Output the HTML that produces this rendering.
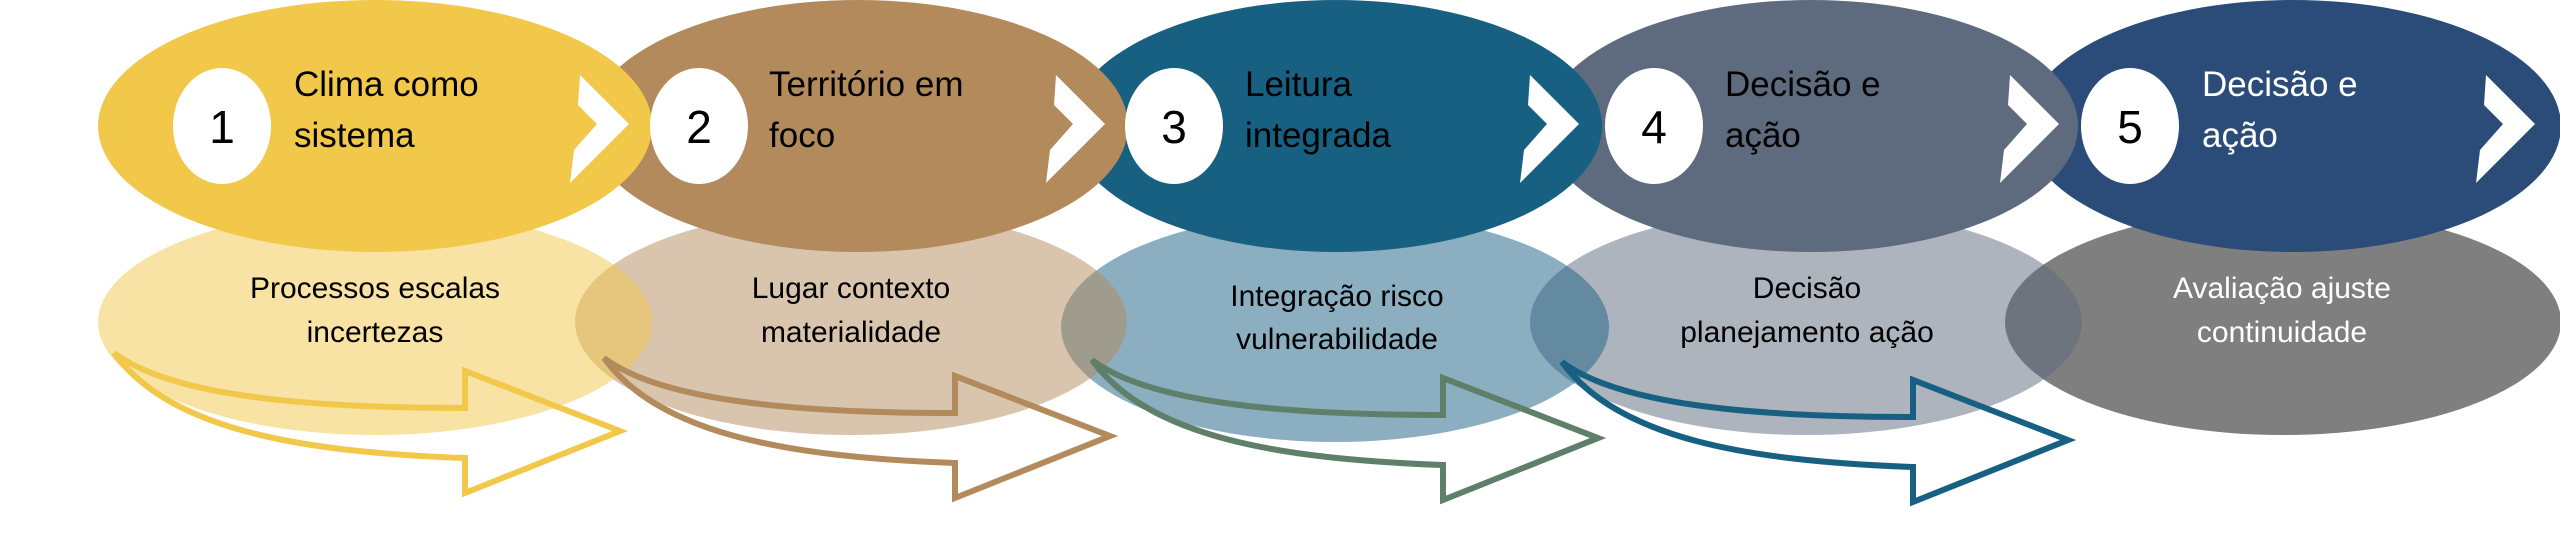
<!DOCTYPE html>
<html><head><meta charset="utf-8"><style>
html,body{margin:0;padding:0;background:#fff;}
svg{display:block;}
text{font-family:"Liberation Sans",sans-serif;}
</style></head><body>
<svg width="2560" height="556" viewBox="0 0 2560 556" xmlns="http://www.w3.org/2000/svg">
<!-- bottom ellipses -->
<ellipse cx="2283" cy="322" rx="278" ry="113" fill="#7F7F7F"/>
<ellipse cx="1806" cy="322" rx="276" ry="113" fill="#5E6A7E" fill-opacity="0.5"/>
<ellipse cx="1335" cy="327" rx="274" ry="115" fill="#176082" fill-opacity="0.5"/>
<ellipse cx="851" cy="322" rx="276" ry="113" fill="#B38A5B" fill-opacity="0.5"/>
<ellipse cx="375" cy="322" rx="277" ry="113" fill="#F2C84B" fill-opacity="0.5"/>
<!-- top ellipses -->
<ellipse cx="2293" cy="126" rx="268" ry="126" fill="#2B4C79"/>
<ellipse cx="1811" cy="126" rx="267" ry="126" fill="#5E6A7E"/>
<ellipse cx="1336" cy="126" rx="266" ry="126" fill="#176082"/>
<ellipse cx="858" cy="126" rx="270" ry="126" fill="#B38A5B"/>
<ellipse cx="375" cy="126" rx="277" ry="126" fill="#F2C84B"/>
<!-- white ovals + numbers + chevrons -->
<g fill="#fff">
<ellipse cx="222" cy="126" rx="49" ry="58"/>
<ellipse cx="699" cy="126" rx="49" ry="58"/>
<ellipse cx="1174" cy="126" rx="49" ry="58"/>
<ellipse cx="1654" cy="126" rx="49" ry="58"/>
<ellipse cx="2130" cy="126" rx="49" ry="58"/>
<polygon points="580,75 629,124 570,183 574,150 597,124 578,105"/>
<polygon points="1056,75 1105,124 1046,183 1050,150 1073,124 1054,105"/>
<polygon points="1530,75 1579,124 1520,183 1524,150 1547,124 1528,105"/>
<polygon points="2010,75 2059,124 2000,183 2004,150 2027,124 2008,105"/>
<polygon points="2486,75 2535,124 2476,183 2480,150 2503,124 2484,105"/>
</g>
<g font-size="46" text-anchor="middle" fill="#000">
<text x="222" y="143">1</text>
<text x="699" y="143">2</text>
<text x="1174" y="143">3</text>
<text x="1654" y="143">4</text>
<text x="2130" y="143">5</text>
</g>
<g font-size="35" fill="#000">
<text x="294" y="96">Clima como</text><text x="294" y="147">sistema</text>
<text x="769" y="96">Território em</text><text x="769" y="147">foco</text>
<text x="1245" y="96">Leitura</text><text x="1245" y="147">integrada</text>
<text x="1725" y="96">Decisão e</text><text x="1725" y="147">ação</text>
<text x="2202" y="96" fill="#fff">Decisão e</text><text x="2202" y="147" fill="#fff">ação</text>
</g>
<g font-size="30" text-anchor="middle" fill="#000">
<text x="375" y="298">Processos escalas</text><text x="375" y="342">incertezas</text>
<text x="851" y="298">Lugar contexto</text><text x="851" y="342">materialidade</text>
<text x="1337" y="306">Integração risco</text><text x="1337" y="349">vulnerabilidade</text>
<text x="1807" y="298">Decisão</text><text x="1807" y="342">planejamento  ação</text>
<text x="2282" y="298" fill="#fff">Avaliação ajuste</text><text x="2282" y="342" fill="#fff">continuidade</text>
</g>
<!-- arrows -->
<defs>
<path id="arr" d="M114,353 C170,395 300,408 465,408 L465,371 L620,431 L465,493 L465,458 C300,452 170,430 114,353 Z" fill="none" stroke-width="6" stroke-linejoin="miter"/>
</defs>
<use href="#arr" stroke="#F2C84B"/>
<use href="#arr" stroke="#B38A5B" transform="translate(490,5)"/>
<use href="#arr" stroke="#5E7F6A" transform="translate(978,7)"/>
<use href="#arr" stroke="#176082" transform="translate(1448,9)"/>
</svg>
</body></html>
